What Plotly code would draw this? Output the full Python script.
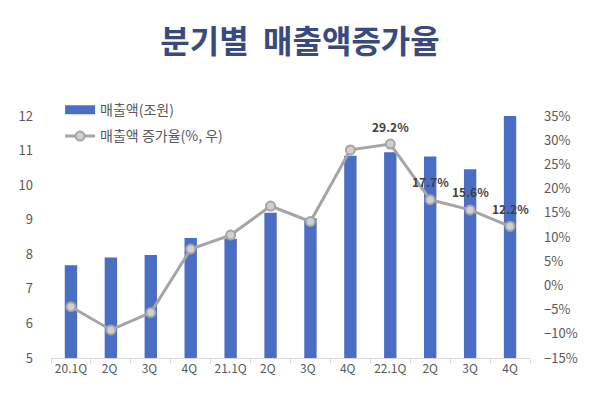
import plotly.graph_objects as go

categories = ["20.1Q", "2Q ", "3Q ", "4Q ", "21.1Q", "2Q  ", "3Q  ", "4Q  ", "22.1Q", "2Q", "3Q", "4Q"]
sales = [7.68, 7.91, 7.98, 8.47, 8.45, 9.20, 9.04, 10.85, 10.95, 10.83, 10.46, 12.0]
growth = [-4.4, -9.2, -5.6, 7.5, 10.4, 16.4, 13.2, 28.0, 29.2, 17.7, 15.6, 12.2]
labeled = [False, False, False, False, False, False, False, False, True, True, True, True]

font_main = "Noto Sans CJK KR"
gray = "#595959"
bar_color = "#4a6ec4"

fig = go.Figure()
fig.add_trace(go.Bar(
    x=categories, y=sales, name="매출액(조원)",
    marker=dict(color=bar_color, line=dict(width=0)),
    width=0.31, yaxis="y", showlegend=False,
))
# legend-only entry so the swatch is a wide bar like the original
fig.add_trace(go.Scatter(
    x=[None], y=[None], name="매출액(조원)", mode="lines",
    line=dict(color=bar_color, width=9), legendgroup="a",
))
fig.add_trace(go.Scatter(
    x=categories, y=growth, name="매출액 증가율(%, 우)",
    mode="lines+markers", yaxis="y2", legendgroup="b",
    line=dict(color="#a5a5a5", width=3),
    marker=dict(size=9, color="#d0d0d0", line=dict(color="#a5a5a5", width=2)),
))

for c, g, show in zip(categories, growth, labeled):
    if show:
        fig.add_annotation(
            x=c, y=g, xref="x", yref="y2", text=f"{g:.1f}%",
            showarrow=False, yshift=18,
            font=dict(family=font_main, size=12, color="#404040", weight="bold"),
        )

fig.update_layout(
    width=584, height=383,
    margin=dict(l=43, r=62, t=108, b=33, autoexpand=False),
    paper_bgcolor="white", plot_bgcolor="white",
    title=dict(text="분기별  매출액증가율", x=0.5, xanchor="center", y=0.912, yanchor="middle",
               font=dict(family=font_main, size=32, color="#3b4a7c", weight="bold")),
    font=dict(family=font_main, size=12, color=gray),
    showlegend=True,
    legend=dict(x=0.019, y=1.09, xanchor="left", yanchor="top", bgcolor="rgba(0,0,0,0)",
                traceorder="grouped", tracegroupgap=5,
                font=dict(family=font_main, size=14, color=gray)),
    xaxis=dict(type="category", range=[-0.5, len(categories) - 0.5],
               showline=True, linecolor="#d9d9d9", linewidth=1,
               ticks="outside", tickson="boundaries", ticklen=5, tickcolor="#d9d9d9",
               showgrid=False, tickangle=0, automargin=False,
               tickfont=dict(size=12, color=gray)),
    yaxis=dict(range=[5, 12], dtick=1, showgrid=False, zeroline=False, showline=False,
               automargin=False, tickfont=dict(size=13, color=gray), ticklabelstandoff=17),
    yaxis2=dict(range=[-15, 35], dtick=5, overlaying="y", side="right", showgrid=False,
                zeroline=False, showline=False, ticksuffix="%", automargin=False,
                tickfont=dict(size=13, color=gray), ticklabelstandoff=13),
)

fig.write_html("out.html")
